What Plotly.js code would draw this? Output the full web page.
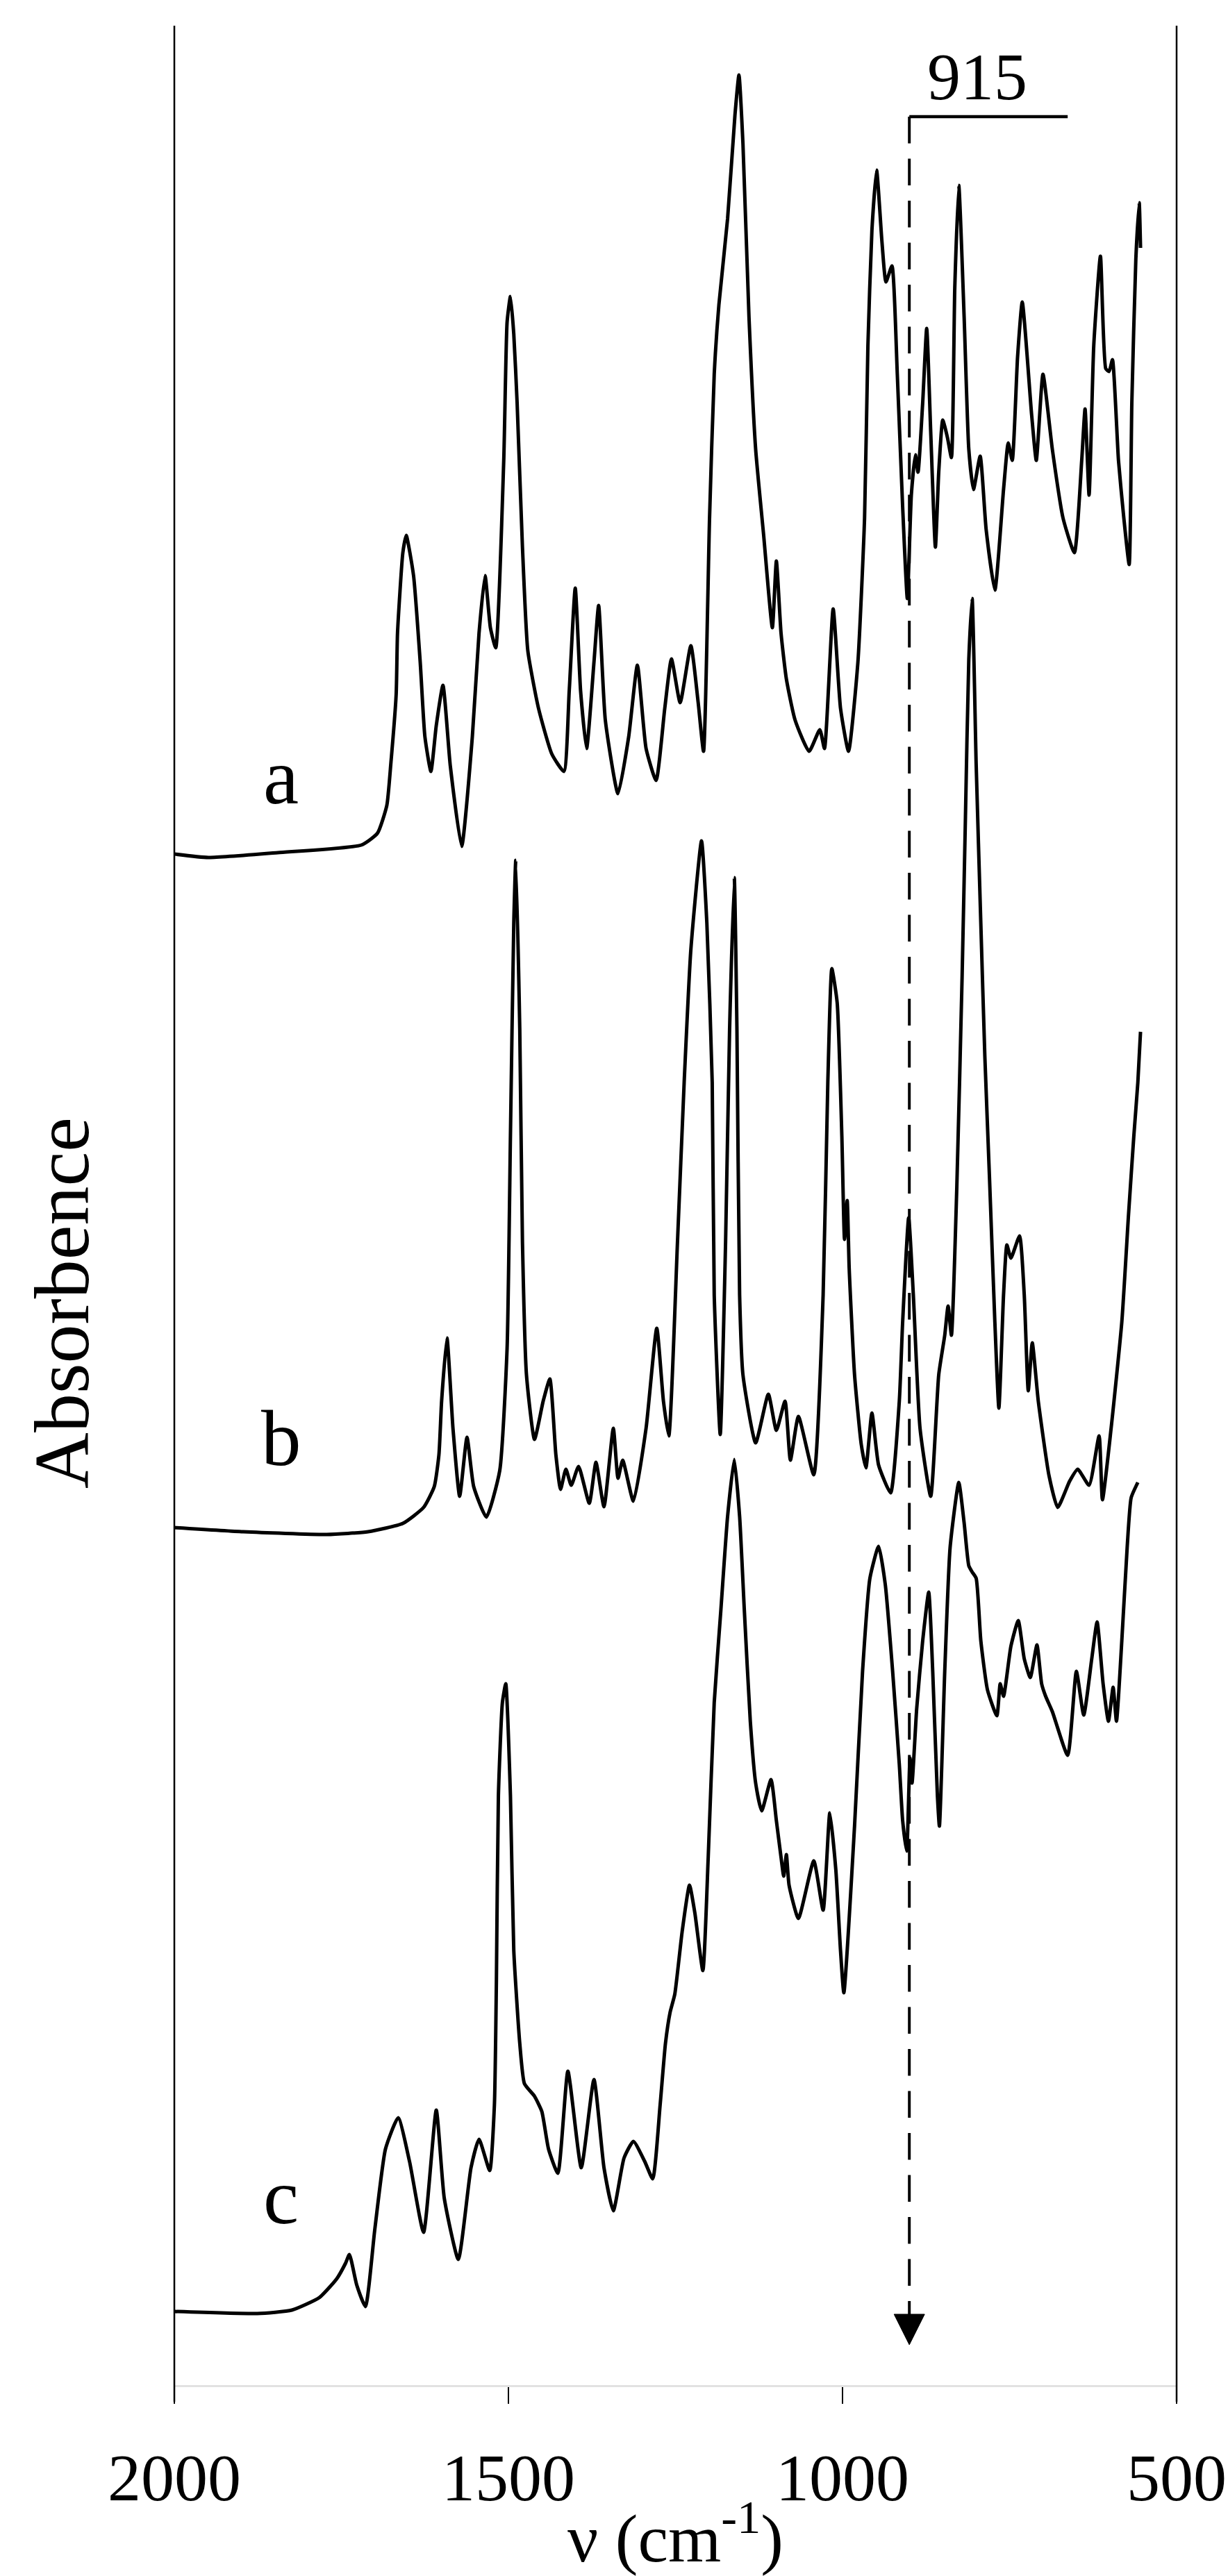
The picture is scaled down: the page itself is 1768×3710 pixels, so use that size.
<!DOCTYPE html>
<html>
<head>
<meta charset="utf-8">
<script src="https://cdn.plot.ly/plotly-3.0.1.min.js"></script>
<style>
html,body{margin:0;padding:0;background:#fff;}
#chart{width:1768px;height:3710px;}
</style>
</head>
<body>
<div id="chart"></div>
<script>
// ---- Data (wavenumber in cm-1, absorbance relative to each spectrum's own baseline) ----
const wnA = [2000,1949,1845,1720,1696,1682,1676,1668,1666,1658,1653,1642,1632,1625,1616,1608,1598,1587,1570,1554,1544,1535,1527,1519,1507,1502,1497,1492,1487,1479,1471,1455,1435,1417,1409,1400,1392,1383,1372,1365,1355,1336,1320,1307,1294,1279,1266,1256,1243,1227,1216,1208,1199,1192,1185,1172,1161,1155,1149,1140,1130,1118,1105,1099,1092,1084,1071,1050,1034,1027,1014,1003,991,977,967,962,956,949,941,935,926,918,910,903,897,891,887,880,874,868,861,856,850,843,837,832,826,818,811,804,794,785,772,759,752,746,738,731,717,710,700,686,670,653,642,637,631,624,614,606,601,596,587,579,571,567,561,556,554];
const absA = [0.000,-0.005,0.002,0.013,0.030,0.070,0.130,0.230,0.318,0.434,0.459,0.401,0.276,0.169,0.119,0.185,0.243,0.127,0.011,0.169,0.318,0.401,0.326,0.297,0.567,0.766,0.803,0.749,0.650,0.442,0.293,0.210,0.144,0.119,0.235,0.383,0.235,0.152,0.276,0.358,0.193,0.087,0.169,0.272,0.152,0.106,0.210,0.281,0.218,0.300,0.218,0.148,0.484,0.691,0.791,0.915,1.064,1.122,1.023,0.774,0.583,0.459,0.326,0.422,0.318,0.252,0.193,0.148,0.179,0.152,0.353,0.210,0.148,0.276,0.484,0.732,0.898,0.985,0.882,0.824,0.847,0.691,0.500,0.368,0.517,0.575,0.550,0.650,0.757,0.608,0.442,0.550,0.625,0.600,0.571,0.815,0.963,0.774,0.583,0.525,0.573,0.467,0.380,0.525,0.592,0.567,0.716,0.795,0.633,0.567,0.691,0.583,0.484,0.434,0.567,0.641,0.517,0.732,0.861,0.699,0.695,0.712,0.567,0.484,0.417,0.650,0.857,0.938,0.873];

const wnB = [2000,1897,1772,1710,1658,1627,1611,1604,1600,1592,1583,1573,1562,1552,1533,1513,1502,1497,1492,1489,1483,1479,1473,1461,1448,1438,1429,1422,1414,1406,1395,1379,1369,1357,1343,1336,1329,1313,1294,1278,1268,1260,1247,1237,1227,1211,1203,1195,1192,1183,1175,1169,1162,1158,1154,1149,1130,1111,1099,1086,1078,1066,1043,1029,1022,1016,1008,1001,997,993,990,982,972,965,956,946,928,915,910,901,894,884,868,856,847,842,837,829,821,816,811,806,800,793,787,780,772,766,759,754,748,735,728,722,716,707,691,678,660,648,631,616,611,598,582,572,564,558,554];
const absB = [0.000,-0.006,-0.010,-0.006,0.006,0.029,0.059,0.105,0.182,0.273,0.143,0.045,0.130,0.059,0.015,0.082,0.258,0.564,0.870,0.961,0.717,0.411,0.220,0.127,0.182,0.214,0.105,0.055,0.084,0.061,0.088,0.035,0.094,0.030,0.143,0.071,0.097,0.038,0.143,0.287,0.182,0.132,0.411,0.641,0.832,0.989,0.870,0.641,0.335,0.134,0.411,0.717,0.936,0.717,0.335,0.220,0.122,0.192,0.140,0.182,0.097,0.160,0.076,0.335,0.641,0.805,0.756,0.564,0.415,0.471,0.373,0.220,0.120,0.086,0.165,0.090,0.050,0.182,0.296,0.446,0.335,0.143,0.045,0.220,0.277,0.319,0.277,0.488,0.794,1.024,1.250,1.338,1.100,0.870,0.679,0.503,0.296,0.172,0.335,0.407,0.388,0.420,0.335,0.197,0.266,0.182,0.075,0.029,0.067,0.084,0.061,0.132,0.040,0.143,0.296,0.450,0.564,0.641,0.714];

const wnC = [2000,1876,1824,1783,1757,1744,1738,1727,1714,1700,1684,1665,1648,1627,1608,1596,1575,1556,1544,1528,1521,1518,1515,1509,1504,1497,1492,1483,1476,1461,1450,1440,1426,1411,1391,1372,1357,1343,1327,1313,1296,1284,1273,1265,1258,1251,1240,1229,1221,1209,1201,1192,1182,1172,1162,1154,1147,1138,1130,1121,1107,1099,1092,1088,1084,1080,1066,1043,1029,1019,1010,1003,998,982,970,959,946,936,925,915,910,904,899,896,889,880,871,865,858,855,847,839,826,818,811,806,800,793,783,769,764,759,748,737,728,719,709,702,696,686,663,650,639,627,619,610,602,595,590,582,574,568,558];
const absC = [0.000,-0.003,0.002,0.020,0.047,0.069,0.082,0.038,0.007,0.118,0.234,0.279,0.216,0.114,0.290,0.163,0.075,0.207,0.248,0.203,0.297,0.475,0.743,0.877,0.904,0.743,0.520,0.386,0.328,0.310,0.288,0.234,0.199,0.346,0.207,0.334,0.207,0.145,0.221,0.245,0.216,0.191,0.297,0.386,0.431,0.457,0.547,0.614,0.574,0.491,0.654,0.877,1.011,1.145,1.227,1.145,1.011,0.850,0.761,0.721,0.766,0.707,0.654,0.627,0.658,0.614,0.566,0.649,0.578,0.718,0.636,0.520,0.459,0.699,0.922,1.056,1.102,1.047,0.922,0.788,0.707,0.663,0.797,0.761,0.868,0.966,1.036,0.922,0.743,0.699,0.922,1.100,1.194,1.136,1.074,1.065,1.056,0.966,0.895,0.858,0.904,0.886,0.958,0.995,0.940,0.913,0.960,0.904,0.886,0.864,0.801,0.922,0.859,0.940,0.993,0.904,0.850,0.899,0.850,0.966,1.100,1.172,1.194];

const seriesNames = ['a', 'b', 'c'];
const seriesOffsets = [2.205, 1.235, 0.106];   // vertical stacking offsets
const xTickVals = [2000, 1500, 1000, 500];
const markerWn = 900;          // dashed marker line position
const markerText = '915';
const bracketEndWn = 663;

// ---- Build figure ----
const FONT = 'Liberation Serif, "Times New Roman", Times, serif';
const wns = [wnA, wnB, wnC];
const abss = [absA, absB, absC];

const traces = seriesNames.map((name, i) => ({
  type: 'scatter', mode: 'lines', name: name,
  x: wns[i],
  y: abss[i].map(v => v + seriesOffsets[i]),
  line: {color: '#000', width: 5, shape: 'spline', smoothing: 0.5},
  hoverinfo: 'skip', showlegend: false
}));

const labelY = [2.317, 1.364, 0.272];
const annotations = seriesNames.map((name, i) => ({
  x: 1840, y: labelY[i], xref: 'x', yref: 'y', text: name, showarrow: false,
  xanchor: 'center', yanchor: 'middle',
  font: {family: FONT, size: 115, color: '#000'}
}));
annotations.push({
  x: 798, y: 3.325, xref: 'x', yref: 'y', text: markerText, showarrow: false,
  xanchor: 'center', yanchor: 'middle',
  font: {family: FONT, size: 96, color: '#000'}
});
annotations.push({
  x: -0.1123, y: 0.4588, xref: 'paper', yref: 'paper', text: 'Absorbence',
  textangle: -90, showarrow: false, xanchor: 'center', yanchor: 'middle',
  font: {family: FONT, size: 112, color: '#000'}
});

// arrow head geometry (px converted to data units: 0.962 px per cm-1, 1000 px per unit)
const headHalfW = 22 / 0.962, headTop = 0.102, headTip = 0.058, bracketY = 3.267;

const shapes = [
  {type: 'line', xref: 'paper', yref: 'paper', x0: 0, x1: 0, y0: -24/3398, y1: 1,
   line: {color: '#000', width: 2.5}},
  {type: 'line', xref: 'paper', yref: 'paper', x0: 1, x1: 1, y0: -24/3398, y1: 1,
   line: {color: '#000', width: 2.5}},
  {type: 'line', xref: 'x', yref: 'y', x0: bracketEndWn, x1: markerWn, y0: bracketY, y1: bracketY,
   line: {color: '#000', width: 4.5}},
  {type: 'line', xref: 'x', yref: 'y', x0: markerWn, x1: markerWn, y0: bracketY, y1: headTop,
   line: {color: '#000', width: 4, dash: '38.5px,22px'}},
  {type: 'path', xref: 'x', yref: 'y',
   path: `M ${markerWn + headHalfW},${headTop} L ${markerWn - headHalfW},${headTop} L ${markerWn},${headTip} Z`,
   fillcolor: '#000', line: {color: '#000', width: 1}}
];

const layout = {
  width: 1768, height: 3710,
  margin: {l: 251, r: 74, t: 37, b: 275, pad: 0},
  paper_bgcolor: '#fff', plot_bgcolor: '#fff',
  font: {family: FONT, color: '#000'},
  xaxis: {
    range: [2000, 500], tickmode: 'array', tickvals: xTickVals,
    ticktext: xTickVals.map(String),
    ticks: 'outside', ticklen: 24, tickwidth: 2.5, tickcolor: '#000',
    showline: true, linecolor: '#e2e2e2', linewidth: 3,
    showgrid: false, zeroline: false,
    tickfont: {family: FONT, size: 96, color: '#000'},
    ticklabelstandoff: 24,
    title: {text: '\u2002\u2006ν (cm<sup>-1</sup>)', font: {family: FONT, size: 98, color: '#000'}, standoff: 8},
    automargin: false, fixedrange: true
  },
  yaxis: {range: [0, 3.398], visible: false, fixedrange: true, automargin: false},
  shapes: shapes,
  annotations: annotations,
  showlegend: false
};

Plotly.newPlot('chart', traces, layout, {displayModeBar: false, staticPlot: true});
</script>
</body>
</html>
